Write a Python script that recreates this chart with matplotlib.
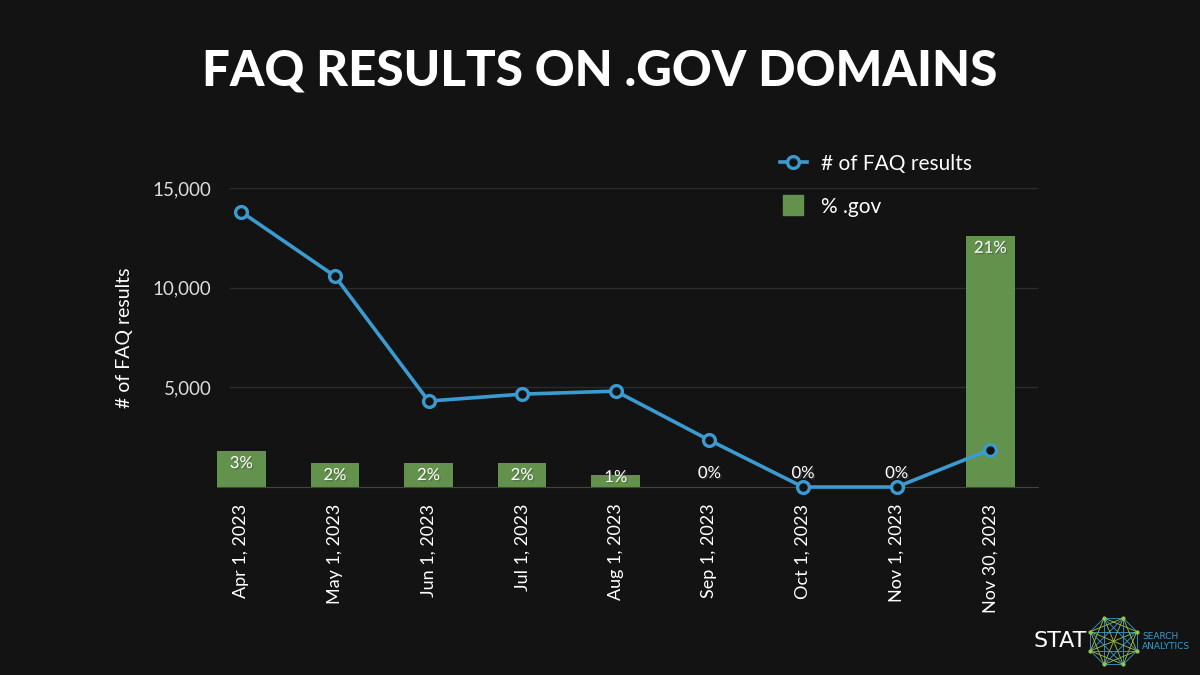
import numpy as np
import matplotlib.pyplot as plt
from matplotlib.lines import Line2D
import matplotlib.patheffects as pe

# DATA ########################################################################

dates = ["Apr 1, 2023", "May 1, 2023", "Jun 1, 2023", "Jul 1, 2023", "Aug 1, 2023",
         "Sep 1, 2023", "Oct 1, 2023", "Nov 1, 2023", "Nov 30, 2023"]
faq_results = [13800, 10580, 4310, 4660, 4810, 2350, 0, 0, 1880]
pct_gov = [3, 2, 2, 2, 1, 0, 0, 0, 21]

# STYLE #######################################################################

BG = "#131313"
BLUE = "#3b9bd0"
GREEN = "#62924b"
FONT = ["Lato", "DejaVu Sans"]

plt.rcParams['font.family'] = FONT

fig = plt.figure(figsize=(12, 6.75), dpi=100, facecolor=BG)
ax = fig.add_axes([0.1808, 0.2785, 0.865 - 0.1808, 0.7215 - 0.2785])

x = np.arange(len(dates))
YMAX, PMAX = 15000, 25
yticks = [5000, 10000, 15000]

# bars on secondary axis, drawn below the line
ax2 = ax.twinx()
ax.set_zorder(ax2.get_zorder() + 1)
ax.patch.set_visible(False)
ax2.set_facecolor(BG)

# gridlines live on the bar axis so they stay behind the bars
for t in yticks:
    ax2.axhline(t / YMAX * PMAX, xmin=0.016, color="#2c2c2c", lw=1, zorder=0)

ax2.bar(x, pct_gov, width=0.52, color=GREEN, zorder=2)
ax2.set_ylim(0, PMAX)
ax2.set_yticks([])
for xi, v in zip(x, pct_gov):
    if v > 0:
        y_txt, va = max(v - 0.33, 1.5), "top"
    else:
        y_txt, va = 0.5, "bottom"
    ax2.text(xi, y_txt, "{}%".format(v), ha="center", va=va, color="white",
             fontsize=12, zorder=5,
             path_effects=[pe.withSimplePatchShadow(offset=(1, -1), alpha=0.5)])

ax.plot(x, faq_results, color=BLUE, lw=2.6, marker="o", markersize=8.5,
        markerfacecolor=BG, markeredgecolor=BLUE, markeredgewidth=2.4,
        zorder=4, clip_on=False)

ax.set_xlim(-0.26, 8.51)
ax2.set_xlim(-0.26, 8.51)
ax.set_ylim(0, YMAX)
ax.set_yticks(yticks)
ax.set_yticklabels(["{:,}".format(v) for v in yticks])
ax.set_xticks(x)
ax.set_xticklabels(dates, rotation=90)

ax.tick_params(axis="y", length=0, pad=4, labelsize=13.5, labelcolor="#dddddd")
ax.tick_params(axis="x", length=0, pad=12, labelsize=13, labelcolor="white")

for a in (ax, ax2):
    for s in ["top", "right", "left"]:
        a.spines[s].set_visible(False)
    a.spines["bottom"].set_color("#444444")
ax2.spines["bottom"].set_visible(False)

ax.set_ylabel("# of FAQ results", color="white", fontsize=14, labelpad=14)

# LEGEND ######################################################################

handles = [Line2D([0], [0], color=BLUE, lw=2.6, marker="o", markersize=8.5,
                  markerfacecolor=BG, markeredgecolor=BLUE, markeredgewidth=2.4),
           Line2D([0], [0], color=GREEN, lw=0, marker="s", markersize=15)]
leg = fig.legend(handles, ["# of FAQ results", "% .gov"], loc="upper left",
                 bbox_to_anchor=(0.634, 0.8), frameon=False, fontsize=15,
                 labelcolor="white", handlelength=1.3, handletextpad=0.7,
                 labelspacing=1.1)

# TITLE #######################################################################

fig.text(0.5, 0.895, "FAQ RESULTS ON .GOV DOMAINS", ha="center", va="center",
         color="white", fontsize=35.5, fontweight="black")

# LOGO ########################################################################

fig.text(0.861, 0.05, "STAT", ha="left", va="center", color="white",
         fontsize=16, family=["DejaVu Sans"])
fig.text(0.952, 0.05, "SEARCH\nANALYTICS", ha="left", va="center",
         color=BLUE, fontsize=6.5, linespacing=1.2, family=["DejaVu Sans"])
lax = fig.add_axes([0.905, 0.005, 0.046, 0.09])
lax.set_aspect("equal")
lax.axis("off")
ang = np.pi / 8 + np.arange(8) * np.pi / 4
px, py = np.cos(ang), np.sin(ang)
for i in range(8):
    for j in range(i + 1, 8):
        lax.plot([px[i], px[j]], [py[i], py[j]],
                 color=(BLUE if (i + j) % 2 else "#9bc34a"), lw=0.6)
lax.plot(px, py, "o", color="#9bc34a", markersize=2)
lax.set_xlim(-1.1, 1.1)
lax.set_ylim(-1.1, 1.1)

plt.savefig("out.png", dpi=100, facecolor=BG)
